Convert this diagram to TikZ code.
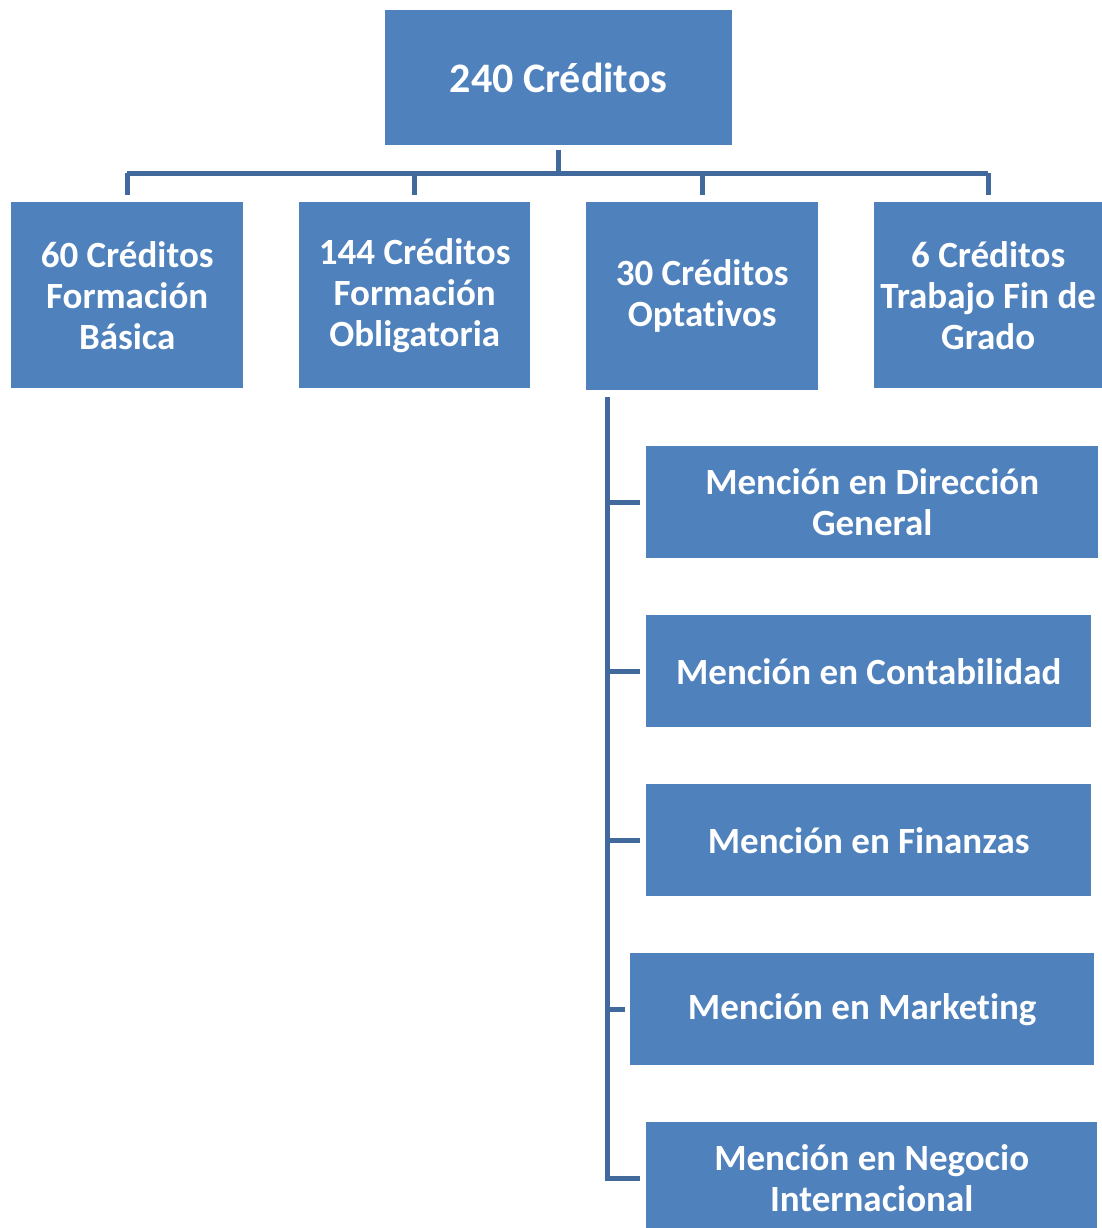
\documentclass[tikz,border=0pt]{standalone}
\usepackage{fontspec}
\setmainfont{Carlito}[Ligatures={NoCommon}]
\definecolor{boxblue}{HTML}{4F81BD}
\definecolor{lineblue}{HTML}{41699C}
\begin{document}
\begin{tikzpicture}[x=1pt,y=-1pt,
  box/.style={fill=boxblue, draw=none, text=white, font=\bfseries\fontsize{37}{41}\selectfont, align=center, inner sep=0pt, anchor=north west},
  conn/.style={draw=lineblue, line width=5pt}]
\useasboundingbox (0,0) rectangle (1102,1228);
% top
\node[box, minimum width=347pt, minimum height=135pt, font=\bfseries\fontsize{42}{46}\selectfont] (top) at (385,10) {240 Créditos};
% row
\node[box, minimum width=232pt, minimum height=186pt] (b1) at (11,202) {60 Créditos\\Formación\\Básica};
\node[box, minimum width=231pt, minimum height=186pt] (b2) at (299,202) {144 Créditos\\Formación\\Obligatoria};
\node[box, minimum width=232pt, minimum height=188pt] (b3) at (586,202) {30 Créditos\\Optativos};
\node[box, minimum width=228pt, minimum height=186pt] (b4) at (874,202) {6 Créditos\\Trabajo Fin de\\Grado};
% sub
\node[box, minimum width=452pt, minimum height=112pt] (m1) at (646,446) {Mención en Dirección\\General};
\node[box, minimum width=445pt, minimum height=112pt] (m2) at (646,615) {Mención en Contabilidad};
\node[box, minimum width=445pt, minimum height=112pt] (m3) at (646,784) {Mención en Finanzas};
\node[box, minimum width=464pt, minimum height=112pt] (m4) at (630,953) {Mención en Marketing};
\node[box, minimum width=451pt, minimum height=112pt] (m5) at (646,1122) {Mención en Negocio\\Internacional};
% connectors top
\coordinate (hy) at (0,173);
\draw[conn] (top.south) ++(0,5) -- (top.south |- hy);
\draw[conn] (b1.north |- hy) -- (b4.north |- hy);
\foreach \b in {b1,b2,b3,b4}{
  \draw[conn] (\b.north |- hy) -- ([yshift=7pt]\b.north);
}
% left spine
\coordinate (sp) at (607,397);
\draw[conn] (sp) -- (sp |- m5.west) -- ++(33,0);
\foreach \m in {m1,m2,m3}{
  \draw[conn] (sp |- \m.west) -- ++(33,0);
}
\draw[conn] (sp |- m4.west) -- ++(18,0);
\end{tikzpicture}
\end{document}
